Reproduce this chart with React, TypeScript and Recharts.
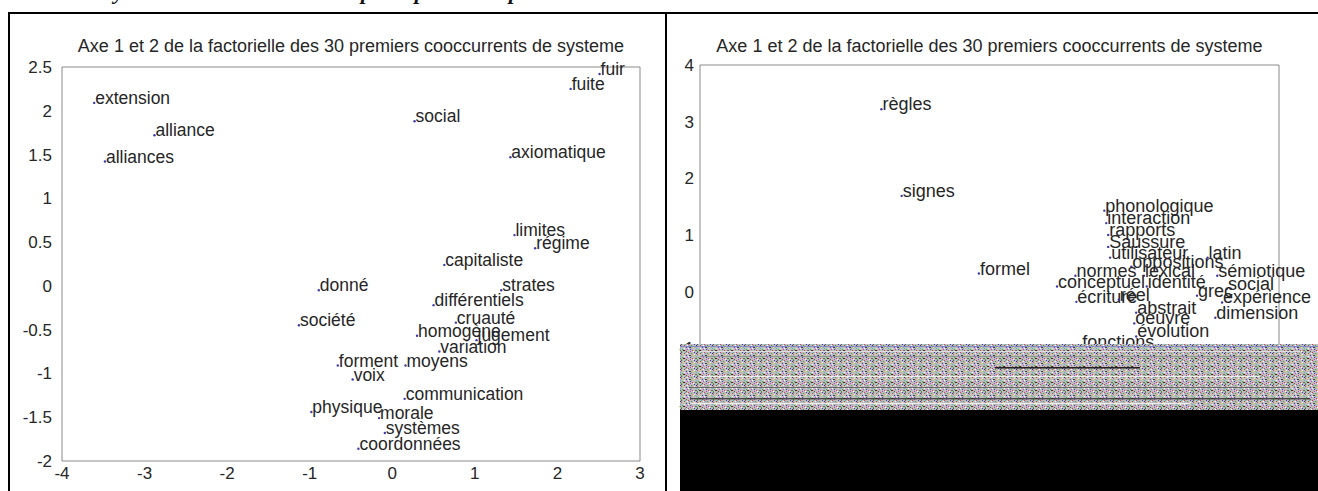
import React from 'react';
import { ScatterChart, Scatter, XAxis, YAxis } from 'recharts';

const leftLabels = ['extension', 'alliance', 'alliances', 'social', 'fuir', 'fuite', 'axiomatique', 'limites', 'régime', 'capitaliste', 'donné', 'strates', 'différentiels', 'société', 'cruauté', 'homogène', 'jugement', 'variation', 'forment', 'moyens', 'voix', 'communication', 'physique', 'morale', 'systèmes', 'coordonnées'];
const leftX = [-3.61, -2.88, -3.48, 0.27, 2.51, 2.16, 1.43, 1.48, 1.73, 0.63, -0.89, 1.32, 0.5, -1.13, 0.77, 0.3, 1.02, 0.57, -0.66, 0.16, -0.48, 0.15, -0.98, -0.16, -0.09, -0.41];
const leftY = [2.09, 1.72, 1.42, 1.88, 2.42, 2.25, 1.47, 0.58, 0.43, 0.24, -0.05, -0.05, -0.22, -0.45, -0.42, -0.57, -0.62, -0.75, -0.91, -0.91, -1.07, -1.29, -1.44, -1.51, -1.68, -1.86];

const rightLabels = ['règles', 'signes', 'formel', 'phonologique', 'interaction', 'rapports', 'Saussure', 'utilisateur', 'oppositions', 'latin', 'normes', 'lexical', 'sémiotique', 'conceptuel', 'identité', 'social', 'grec', 'écriture', 'réel', 'expérience', 'abstrait', 'dimension', 'oeuvre', 'évolution', 'fonctions'];
const rightX = [-2.12, -1.91, -1.11, 0.19, 0.21, 0.23, 0.23, 0.25, 0.47, 1.26, -0.11, 0.6, 1.36, -0.3, 0.63, 1.46, 1.15, -0.1, 0.34, 1.41, 0.52, 1.34, 0.5, 0.52, -0.05];
const rightY = [3.22, 1.69, 0.32, 1.43, 1.21, 1.0, 0.79, 0.6, 0.44, 0.6, 0.28, 0.28, 0.28, 0.09, 0.09, 0.05, -0.07, -0.18, -0.14, -0.19, -0.37, -0.46, -0.56, -0.79, -0.97];

const leftXTicks = [-4, -3, -2, -1, 0, 1, 2, 3];
const leftYTicks = [-2, -1.5, -1, -0.5, 0, 0.5, 1, 1.5, 2, 2.5];
const rightXTicks = [-4, -3, -2, -1, 0, 1, 2];
const rightYTicks = [-2, -1, 0, 1, 2, 3, 4];

const chartTitle = 'Axe 1 et 2 de la factorielle des 30 premiers cooccurrents de systeme';
const captionWords = ['Analyse', 'principaux', 'plans'];

const leftData = leftLabels.map((label, i) => ({ label, x: leftX[i], y: leftY[i] }));
const rightData = rightLabels.map((label, i) => ({ label, x: rightX[i], y: rightY[i] }));

const FONT = '"Liberation Sans", Arial, Helvetica, sans-serif';
const AXIS = '#8a8a8a';
const TXT = '#262626';

const makeShape = (fontSize: number) => (props: any) => {
  const { cx, cy, payload } = props;
  return (
    <g>
      <circle cx={cx} cy={cy} r={1.2} fill="#3b3bb0" />
      <text x={cx + 1} y={cy + 1} fontSize={fontSize} fill={TXT} fontFamily={FONT}>
        {payload.label}
      </text>
    </g>
  );
};

function Panel(props: {
  data: any[];
  width: number;
  height: number;
  margin: any;
  xDomain: [number, number];
  yDomain: [number, number];
  xTicks: number[];
  yTicks: number[];
  yWidth: number;
  labelSize: number;
  ySize: number;
}) {
  const { data, width, height, margin, xDomain, yDomain, xTicks, yTicks, yWidth, labelSize, ySize } = props;
  const tickStyle = { fill: TXT, fontSize: 17, fontFamily: FONT };
  return (
    <ScatterChart width={width} height={height} margin={margin}>
      <XAxis xAxisId="b" type="number" dataKey="x" domain={xDomain} ticks={xTicks} interval={0}
        tickLine={false} axisLine={{ stroke: AXIS }} tick={tickStyle} height={30} tickSize={5} tickMargin={1} />
      <XAxis xAxisId="bi" type="number" domain={xDomain} ticks={xTicks} interval={0} allowDataOverflow
        orientation="bottom" mirror tick={false} axisLine={false} tickLine={{ stroke: AXIS }} tickSize={5} />
      <XAxis xAxisId="t" type="number" domain={xDomain} ticks={xTicks} interval={0} allowDataOverflow
        orientation="top" mirror tick={false} axisLine={{ stroke: AXIS }} tickLine={{ stroke: AXIS }} tickSize={5} />
      <YAxis yAxisId="l" type="number" dataKey="y" domain={yDomain} ticks={yTicks} interval={0}
        tickLine={false} axisLine={{ stroke: AXIS }} tick={tickStyle} width={yWidth} tickSize={ySize} tickMargin={2} />
      <YAxis yAxisId="li" type="number" domain={yDomain} ticks={yTicks} interval={0} allowDataOverflow
        orientation="left" mirror tick={false} axisLine={false} tickLine={{ stroke: AXIS }} tickSize={5} />
      <YAxis yAxisId="r" type="number" domain={yDomain} ticks={yTicks} interval={0} allowDataOverflow
        orientation="right" mirror tick={false} axisLine={{ stroke: AXIS }} tickLine={{ stroke: AXIS }} tickSize={5} />
      <Scatter data={data} xAxisId="b" yAxisId="l" shape={makeShape(labelSize)} isAnimationActive={false} />
    </ScatterChart>
  );
}

const noisePixels: [number, number, number, string][] = [
  [0, 0, 1, '#e23b3b'], [3, 1, 1, '#2fb52f'], [6, 0, 1, '#3b3be0'], [9, 2, 1, '#d63bd6'],
  [1, 3, 2, '#444'], [5, 3, 1, '#e8e83b'], [8, 4, 1, '#2ec2c2'], [2, 5, 1, '#3b3be0'],
  [4, 6, 1, '#e23b3b'], [7, 6, 2, '#666'], [10, 5, 1, '#2fb52f'], [0, 4, 1, '#fff'],
  [6, 2, 1, '#fff'], [3, 4, 1, '#999'], [12, 1, 1, '#e23b3b'], [14, 3, 1, '#3b3be0'],
  [11, 6, 2, '#333'], [13, 0, 1, '#2ec2c2'], [15, 5, 1, '#d63bd6'], [12, 4, 1, '#fff'],
  [1, 1, 1, '#8080ff'], [4, 2, 1, '#ff8080'], [9, 0, 1, '#555'], [7, 3, 1, '#80c080'],
  [2, 7, 1, '#d63bd6'], [5, 7, 1, '#fff'], [9, 7, 1, '#2fb52f'], [14, 7, 1, '#555'],
  [11, 2, 1, '#e8e83b'], [15, 1, 1, '#fff'], [8, 1, 1, '#333'], [13, 6, 1, '#ff8080'],
];

export default function App() {
  return (
    <div style={{ position: 'absolute', left: 0, top: 0, width: 1318, height: 491, background: '#fff', overflow: 'hidden', fontFamily: FONT }}>
      {/* caption line of the document, cut off at the top edge */}
      <svg width={1318} height={20} style={{ position: 'absolute', left: 0, top: 0 }}>
        <g fontFamily='"Liberation Serif", "Times New Roman", serif' fontStyle="italic" fontWeight="bold" fontSize={22} fill="#111">
          <text x={70} y={-1}>{captionWords[0]}</text>
          <text x={361} y={-1}>{captionWords[1]}</text>
          <text x={509} y={-1}>{captionWords[2]}</text>
        </g>
      </svg>

      {/* left panel */}
      <div style={{ position: 'absolute', left: 0, top: 0 }}>
        <Panel data={leftData} width={660} height={491}
          margin={{ top: 67, right: 20, bottom: 0, left: 22 }}
          xDomain={[-4, 3]} yDomain={[-2, 2.5]} xTicks={leftXTicks} yTicks={leftYTicks}
          yWidth={40} labelSize={17.5} ySize={8} />
      </div>
      <div style={{ position: 'absolute', left: 52, top: 36, width: 598, textAlign: 'center', fontSize: 18, color: TXT, whiteSpace: 'nowrap' }}>
        {chartTitle}
      </div>

      {/* right panel */}
      <div style={{ position: 'absolute', left: 660, top: 0 }}>
        <Panel data={rightData} width={658} height={491}
          margin={{ top: 65, right: 39, bottom: 56, left: 10 }}
          xDomain={[-4, 2]} yDomain={[-2, 4]} xTicks={rightXTicks} yTicks={rightYTicks}
          yWidth={30} labelSize={18} ySize={4} />
      </div>
      <div style={{ position: 'absolute', left: 690, top: 36, width: 599, textAlign: 'center', fontSize: 18, color: TXT, whiteSpace: 'nowrap' }}>
        {chartTitle}
      </div>

      {/* corrupted band and black area at the bottom of the right panel */}
      <svg width={1318} height={491} style={{ position: 'absolute', left: 0, top: 0, pointerEvents: 'none' }}>
        <defs>
          <pattern id="nz" width={16} height={8} patternUnits="userSpaceOnUse">
            <rect width={16} height={8} fill="#bdbdbd" />
            {noisePixels.map(([px, py, w, c], i) => (
              <rect key={i} x={px} y={py} width={w} height={1} fill={c} />
            ))}
          </pattern>
        </defs>
        <rect x={680} y={344} width={638} height={66} fill="url(#nz)" />
        <rect x={680} y={346} width={638} height={1} fill="#6a74d8" opacity={0.7} />
        <rect x={700} y={351} width={600} height={1} fill="#ddd" />
        <rect x={700} y={356} width={600} height={1} fill="#888" opacity={0.8} />
        <rect x={995} y={367} width={145} height={1.5} fill="#222" />
        <rect x={700} y={376} width={560} height={1} fill="#eee" />
        <rect x={690} y={387} width={600} height={1} fill="#555" opacity={0.8} />
        <rect x={690} y={398} width={620} height={1.5} fill="#333" opacity={0.8} />
        <rect x={690} y={403} width={500} height={1} fill="#eee" />
        <rect x={680} y={410} width={638} height={81} fill="#000" />
        {/* document frame lines */}
        <rect x={8} y={12} width={1310} height={2} fill="#000" />
        <rect x={8} y={12} width={2} height={479} fill="#000" />
        <rect x={665} y={12} width={2} height={479} fill="#000" />
      </svg>
    </div>
  );
}
